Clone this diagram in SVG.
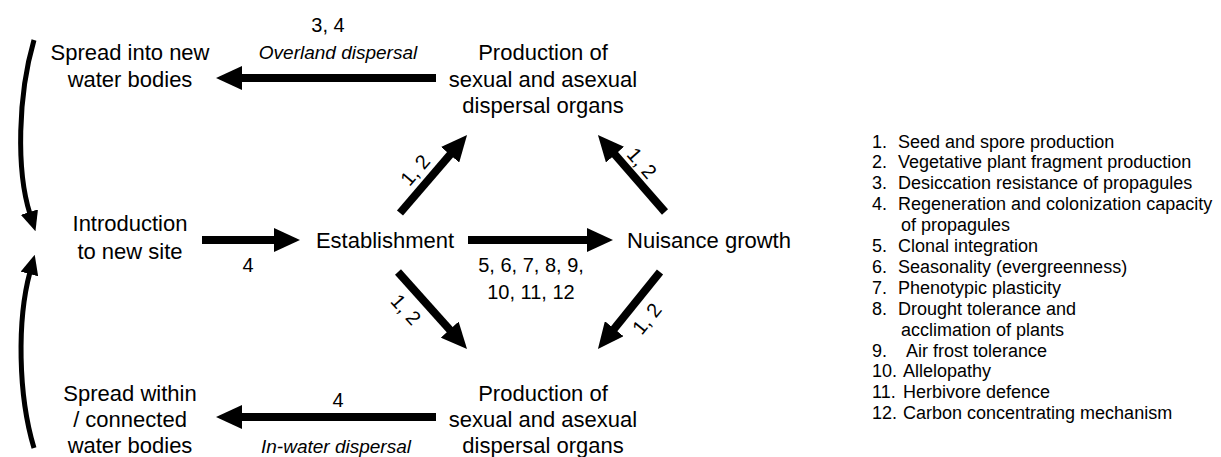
<svg xmlns="http://www.w3.org/2000/svg" width="1221" height="457" viewBox="0 0 1221 457">
<defs>
<style>
text{font-family:"Liberation Sans",Arial,sans-serif;fill:#000}
.n{font-size:22px;text-anchor:middle}
.it{font-size:19px;font-style:italic;text-anchor:middle}
.lab{font-size:20px;text-anchor:middle}
.lg{font-size:18px}
.a{stroke:#000;stroke-width:8;fill:none;marker-end:url(#ah)}
.c{stroke:#000;stroke-width:5;fill:none;marker-end:url(#ch)}
</style>
<marker id="ah" markerUnits="userSpaceOnUse" viewBox="0 0 26 24" markerWidth="26" markerHeight="24" refX="2" refY="12" orient="auto"><path d="M0,0 L26,12 L0,24 Z" fill="#000"/></marker>
<marker id="ch" markerUnits="userSpaceOnUse" viewBox="0 0 20 18" markerWidth="20" markerHeight="18" refX="2" refY="9" orient="auto"><path d="M0,0 L20,9 L0,18 Z" fill="#000"/></marker>
</defs>
<rect width="1221" height="457" fill="#fff"/>
<g id="connectors">
<line class="a" x1="436" y1="78" x2="240" y2="78"/>
<line class="a" x1="202" y1="240" x2="276" y2="240"/>
<line class="a" x1="468" y1="240" x2="589" y2="240"/>
<line class="a" x1="436" y1="417" x2="240" y2="417"/>
<line class="a" x1="400" y1="213" x2="451.4" y2="153.2"/>
<line class="a" x1="665" y1="212" x2="613.7" y2="153.1"/>
<line class="a" x1="398" y1="272" x2="451" y2="331.1"/>
<line class="a" x1="660" y1="272" x2="613" y2="330.3"/>
<path class="c" d="M34,40 C18,95 16,170 30,214"/>
<path class="c" d="M34,448 C18,395 17,320 30,272"/>
<text class="lab" x="328" y="32">3, 4</text>
<text class="it" x="338" y="59">Overland dispersal</text>
<text class="lab" x="248" y="272">4</text>
<text class="lab" x="531" y="272">5, 6, 7, 8, 9,</text>
<text class="lab" x="531" y="299">10, 11, 12</text>
<text class="lab" x="338" y="407">4</text>
<text class="it" x="336" y="453">In-water dispersal</text>
<text class="lab" transform="translate(420.3,174.6) rotate(-49.3)">1, 2</text>
<text class="lab" transform="translate(636.7,167.6) rotate(49)">1, 2</text>
<text class="lab" transform="translate(400.7,314.1) rotate(48.2)">1, 2</text>
<text class="lab" transform="translate(652.3,323.1) rotate(-51.2)">1, 2</text>
</g>
<g id="spread-new"><text class="n" x="130" y="60">Spread into new</text><text class="n" x="130" y="87">water bodies</text></g>
<g id="prod-top"><text class="n" x="543" y="60">Production of</text><text class="n" x="543" y="87">sexual and asexual</text><text class="n" x="543" y="113">dispersal organs</text></g>
<g id="intro"><text class="n" x="130" y="231">Introduction</text><text class="n" x="130" y="259">to new site</text></g>
<g id="establishment"><text class="n" x="385" y="248">Establishment</text></g>
<g id="nuisance"><text class="n" x="709" y="248">Nuisance growth</text></g>
<g id="prod-bottom"><text class="n" x="543" y="401">Production of</text><text class="n" x="543" y="427">sexual and asexual</text><text class="n" x="543" y="453">dispersal organs</text></g>
<g id="spread-within"><text class="n" x="130" y="401">Spread within</text><text class="n" x="130" y="427">/ connected</text><text class="n" x="130" y="453">water bodies</text></g>
<g id="legend">
<text class="lg" x="872" y="147.5">1.<tspan x="898">Seed and spore production</tspan></text>
<text class="lg" x="872" y="168.4">2.<tspan x="898">Vegetative plant fragment production</tspan></text>
<text class="lg" x="872" y="189.3">3.<tspan x="898">Desiccation resistance of propagules</tspan></text>
<text class="lg" x="872" y="210.2">4.<tspan x="898">Regeneration and colonization capacity</tspan></text>
<text class="lg" x="901" y="231.1">of propagules</text>
<text class="lg" x="872" y="252">5.<tspan x="898">Clonal integration</tspan></text>
<text class="lg" x="872" y="272.9">6.<tspan x="898">Seasonality (evergreenness)</tspan></text>
<text class="lg" x="872" y="293.8">7.<tspan x="898">Phenotypic plasticity</tspan></text>
<text class="lg" x="872" y="314.7">8.<tspan x="898">Drought tolerance and</tspan></text>
<text class="lg" x="901" y="335.6">acclimation of plants</text>
<text class="lg" x="872" y="356.5">9.<tspan x="906">Air frost tolerance</tspan></text>
<text class="lg" x="872" y="377.4">10.<tspan x="903">Allelopathy</tspan></text>
<text class="lg" x="872" y="398.3">11.<tspan x="903">Herbivore defence</tspan></text>
<text class="lg" x="872" y="419.2">12.<tspan x="903">Carbon concentrating mechanism</tspan></text>
</g>
</svg>
